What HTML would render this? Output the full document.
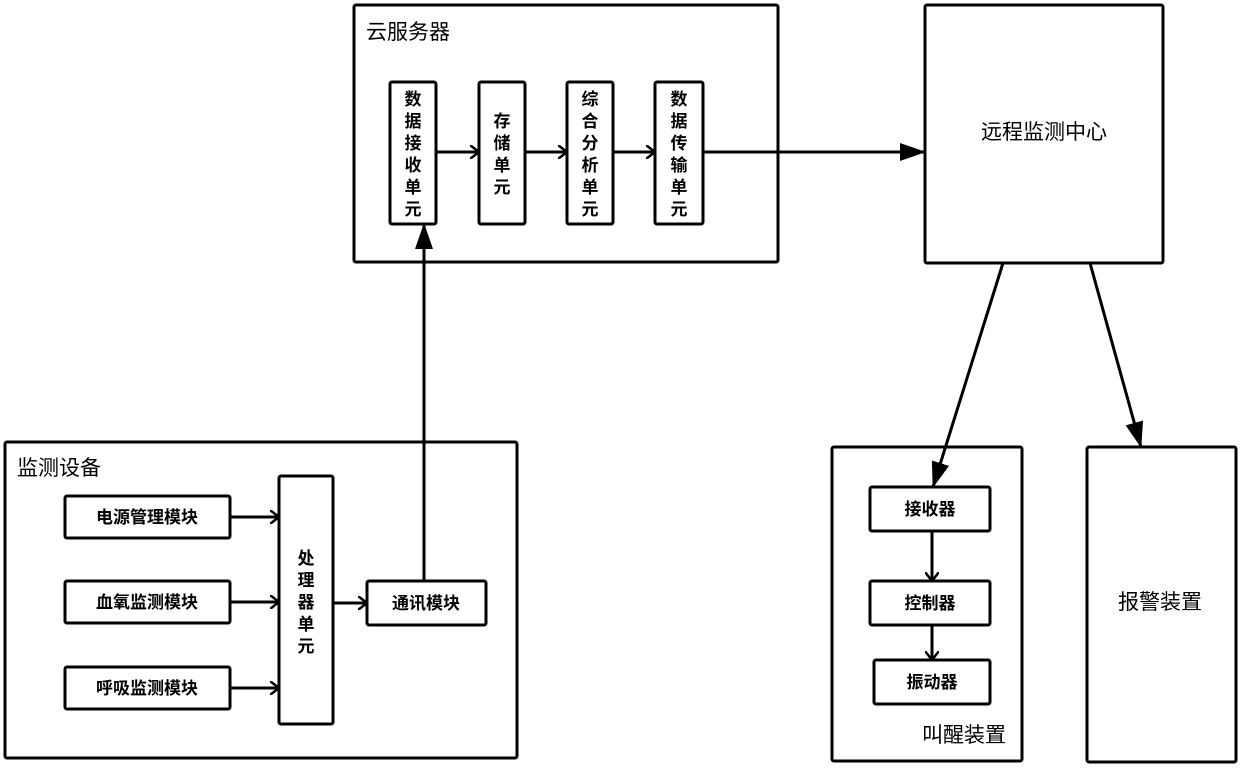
<!DOCTYPE html>
<html><head><meta charset="utf-8"><style>
body{margin:0;background:#fff}
svg text{font-family:"Liberation Sans","Noto Sans CJK SC",sans-serif;font-weight:bold;fill:#000}
</style></head><body>
<svg width="1240" height="768" viewBox="0 0 1240 768" xmlns="http://www.w3.org/2000/svg">
<defs>
<marker id="f" markerWidth="12" markerHeight="10" refX="11" refY="5" orient="auto" markerUnits="userSpaceOnUse"><path d="M0,0 L12,5 L0,10 z" fill="#000"/></marker>
<marker id="F" markerWidth="26" markerHeight="18" refX="25" refY="9" orient="auto" markerUnits="userSpaceOnUse"><path d="M0,0 L26,9 L0,18 z" fill="#000"/></marker>
<marker id="o" markerWidth="10" markerHeight="14" refX="9" refY="7" orient="auto" markerUnits="userSpaceOnUse"><path d="M0,0 L9,7 L0,14" fill="none" stroke="#000" stroke-width="2.5"/></marker>
</defs>
<g fill="none" stroke="#000" stroke-width="3">
<rect x="354" y="5" width="424" height="257" rx="2"/>
<rect x="390" y="82" width="46" height="142" rx="2"/>
<rect x="479" y="82" width="46" height="142" rx="2"/>
<rect x="567" y="82" width="46" height="142" rx="2"/>
<rect x="655" y="82" width="48" height="142" rx="2"/>
<rect x="925" y="5" width="238" height="258" rx="2"/>
<rect x="5" y="442" width="512" height="316" rx="2"/>
<rect x="65" y="496" width="165" height="42" rx="2"/>
<rect x="65" y="581" width="165" height="42" rx="2"/>
<rect x="65" y="667" width="165" height="42" rx="2"/>
<rect x="279" y="476" width="54" height="248" rx="2"/>
<rect x="367" y="581" width="119" height="44" rx="2"/>
<rect x="832" y="447" width="190" height="314" rx="2"/>
<rect x="870" y="487" width="120" height="44" rx="2"/>
<rect x="870" y="581" width="120" height="44" rx="2"/>
<rect x="874" y="660" width="116" height="44" rx="2"/>
<rect x="1087" y="447" width="149" height="315" rx="2"/>
</g>
<g stroke="#000" stroke-width="3" fill="none">
<line x1="436" y1="152" x2="479" y2="152" marker-end="url(#o)"/>
<line x1="525" y1="152" x2="567" y2="152" marker-end="url(#o)"/>
<line x1="613" y1="152" x2="655" y2="152" marker-end="url(#o)"/>
<line x1="703" y1="152" x2="925" y2="152" marker-end="url(#F)"/>
<line x1="424" y1="581" x2="424" y2="224" marker-end="url(#F)"/>
<line x1="230" y1="517" x2="279" y2="517" marker-end="url(#o)"/>
<line x1="230" y1="602" x2="279" y2="602" marker-end="url(#o)"/>
<line x1="230" y1="688" x2="279" y2="688" marker-end="url(#o)"/>
<line x1="333" y1="603" x2="367" y2="603" marker-end="url(#o)"/>
<line x1="1003" y1="263" x2="933" y2="487" marker-end="url(#F)"/>
<line x1="1090" y1="263" x2="1141" y2="447" marker-end="url(#F)"/>
<line x1="932" y1="531" x2="932" y2="581" marker-end="url(#o)"/>
<line x1="932" y1="625" x2="932" y2="660" marker-end="url(#o)"/>
</g>
<g font-size="17" text-anchor="middle">
<text x="413" y="105">数</text><text x="413" y="127">据</text><text x="413" y="149">接</text><text x="413" y="171">收</text><text x="413" y="193">单</text><text x="413" y="215">元</text>
<text x="502" y="127">存</text><text x="502" y="149">储</text><text x="502" y="171">单</text><text x="502" y="193">元</text>
<text x="590" y="105">综</text><text x="590" y="127">合</text><text x="590" y="149">分</text><text x="590" y="171">析</text><text x="590" y="193">单</text><text x="590" y="215">元</text>
<text x="679" y="105">数</text><text x="679" y="127">据</text><text x="679" y="149">传</text><text x="679" y="171">输</text><text x="679" y="193">单</text><text x="679" y="215">元</text>
<text x="306" y="564">处</text><text x="306" y="586">理</text><text x="306" y="608">器</text><text x="306" y="630">单</text><text x="306" y="652">元</text>
<text x="147" y="523">电源管理模块</text>
<text x="147" y="608">血氧监测模块</text>
<text x="147" y="694">呼吸监测模块</text>
<text x="426" y="609">通讯模块</text>
<text x="930" y="515">接收器</text>
<text x="930" y="609">控制器</text>
<text x="932" y="688">振动器</text>
</g>
<g font-size="21" font-weight="normal">
<text x="366" y="39" style="font-weight:normal">云服务器</text>
<text x="17" y="475" style="font-weight:normal">监测设备</text>
<text x="1044" y="139" text-anchor="middle" style="font-weight:normal">远程监测中心</text>
<text x="1160" y="609" text-anchor="middle" style="font-weight:normal">报警装置</text>
<text x="1006" y="742" text-anchor="end" style="font-weight:normal">叫醒装置</text>
</g>
</svg>
</body></html>
